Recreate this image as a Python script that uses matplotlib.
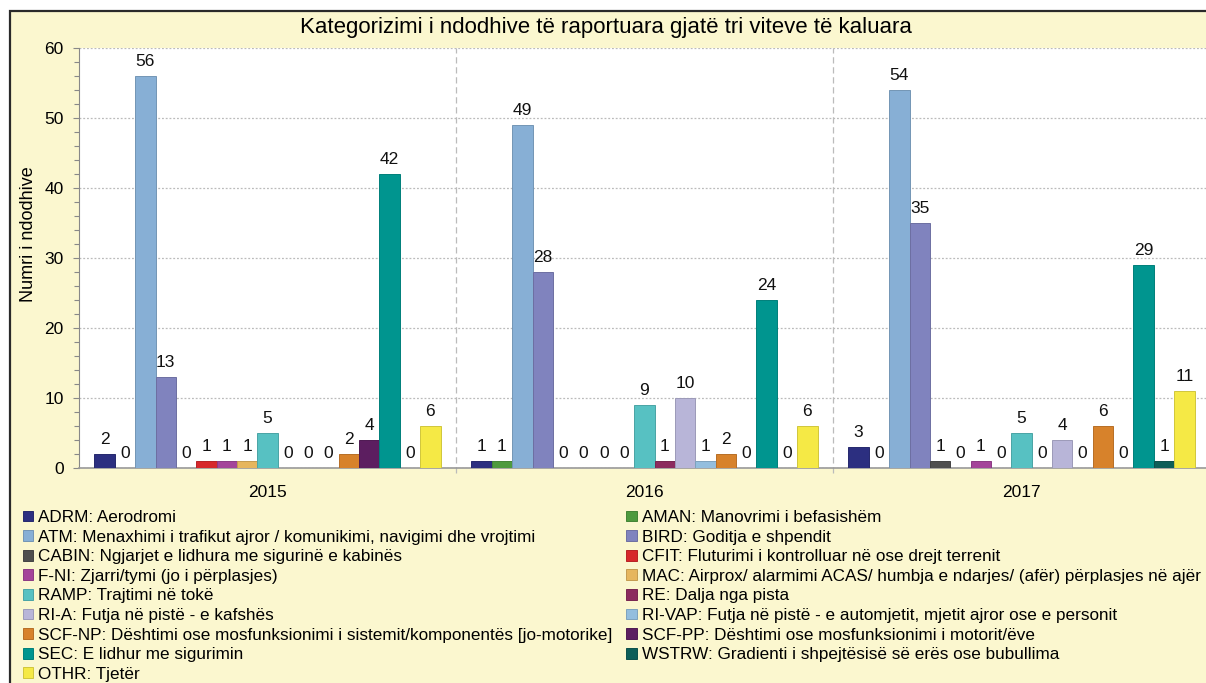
import matplotlib
matplotlib.use("Agg")
import matplotlib.pyplot as plt
from matplotlib.patches import Rectangle
from matplotlib.ticker import MultipleLocator
import numpy as np

plt.rcParams['font.family'] = ['Liberation Sans', 'DejaVu Sans']

years = ["2015", "2016", "2017"]
codes = ["ADRM", "AMAN", "ATM", "BIRD", "CABIN", "CFIT", "F-NI", "MAC", "RAMP",
         "RE", "RI-A", "RI-VAP", "SCF-NP", "SCF-PP", "SEC", "WSTRW", "OTHR"]
legend_labels = [
    "ADRM: Aerodromi",
    "AMAN: Manovrimi i befasishëm",
    "ATM: Menaxhimi i trafikut ajror / komunikimi, navigimi dhe vrojtimi",
    "BIRD: Goditja e shpendit",
    "CABIN: Ngjarjet e lidhura me sigurinë e kabinës",
    "CFIT: Fluturimi i kontrolluar në ose drejt terrenit",
    "F-NI: Zjarri/tymi (jo i përplasjes)",
    "MAC: Airprox/ alarmimi ACAS/ humbja e ndarjes/ (afër) përplasjes në ajër",
    "RAMP: Trajtimi në tokë",
    "RE: Dalja nga pista",
    "RI-A: Futja në pistë - e kafshës",
    "RI-VAP: Futja në pistë - e automjetit, mjetit ajror ose e personit",
    "SCF-NP: Dështimi ose mosfunksionimi i sistemit/komponentës [jo-motorike]",
    "SCF-PP: Dështimi ose mosfunksionimi i motorit/ëve",
    "SEC: E lidhur me sigurimin",
    "WSTRW: Gradienti i shpejtësisë së erës ose bubullima",
    "OTHR: Tjetër",
]
values_2015 = [2, 0, 56, 13, 0, 1, 1, 1, 5, 0, 0, 0, 2, 4, 42, 0, 6]
values_2016 = [1, 1, 49, 28, 0, 0, 0, 0, 9, 1, 10, 1, 2, 0, 24, 0, 6]
values_2017 = [3, 0, 54, 35, 1, 0, 1, 0, 5, 0, 4, 0, 6, 0, 29, 1, 11]

colors = ["#2C2F80", "#4E9A3E", "#87AFD5", "#8083BE", "#4F4F4F", "#D7282B",
          "#A4449A", "#E6B65E", "#57C1C2", "#8C2B5E", "#B8B5D8", "#93BEDE",
          "#D7822B", "#5C1E60", "#00958F", "#0D5E58", "#F5E945"]

title = "Kategorizimi i ndodhive të raportuara gjatë tri viteve të kaluara"
ylabel = "Numri i ndodhive"

data = np.array([values_2015, values_2016, values_2017])  # years x categories

W, H = 1206, 683
fig = plt.figure(figsize=(W / 100, H / 100), dpi=100)
fig.patch.set_facecolor("white")

# outer yellow frame
frame = Rectangle((10 / W, -0.02), 1.05, 1 - 11 / H + 0.02,
                  transform=fig.transFigure, facecolor="#FBF7CF",
                  edgecolor="#2a2a2a", linewidth=1.6, zorder=-5)
fig.patches.append(frame)

ax = fig.add_axes([79 / W, 1 - 468 / H, 1131 / W, (468 - 48) / H])
ax.set_zorder(2)
ax.set_facecolor("white")

n = len(codes)
bw = 0.054
x = np.arange(len(years))
handles = []
for j in range(n):
    pos = x + (j - (n - 1) / 2) * bw
    c = colors[j]
    dark = tuple(np.clip(np.array(matplotlib.colors.to_rgb(c)) * 0.85, 0, 1))
    bars = ax.bar(pos, data[:, j], width=bw, color=c, edgecolor=dark,
                  linewidth=0.7, zorder=3, label=legend_labels[j])
    ax.bar_label(bars, labels=[str(v) for v in data[:, j]], padding=5,
                 fontsize=12.5, color="#111111", zorder=4)
    handles.append(bars)

ax.set_xlim(-0.5, 2.5)
ax.set_ylim(0, 60)
ax.yaxis.set_major_locator(MultipleLocator(10))
ax.yaxis.set_minor_locator(MultipleLocator(2))
ax.set_xticks(x)
ax.set_xticklabels(years, fontsize=12.5)
ax.tick_params(axis="x", length=0, pad=12)
ax.tick_params(axis="y", which="major", length=4, width=0.8, color="#888888",
               labelsize=12.5, pad=7)
ax.tick_params(axis="y", which="minor", length=3.5, width=0.8, color="#888888")

ax.grid(axis="y", which="major", linestyle=(0, (1.5, 1.5)), color="#BBBBBB",
        linewidth=0.9, zorder=1)
for sep in [0.5, 1.5]:
    ax.axvline(sep, color="#BBBBBB", linestyle=(0, (5, 3)), linewidth=0.9,
               zorder=1, ymin=-0.012, clip_on=False)

for s in ["top", "right"]:
    ax.spines[s].set_visible(False)
ax.spines["left"].set_color("#888888")
ax.spines["bottom"].set_color("#999999")
ax.spines["bottom"].set_linewidth(1.2)

ax.set_ylabel(ylabel, fontsize=13, labelpad=6)
ax.yaxis.set_label_coords(-0.037, (468 - 234) / 420)

fig.text(606 / W, 1 - 28 / H, title, ha="center", va="center", fontsize=16)

order = list(range(0, n, 2)) + list(range(1, n, 2))
leg = fig.legend([handles[i] for i in order], [legend_labels[i] for i in order],
                 ncol=2, loc="upper left", bbox_to_anchor=(23 / W, 1 - 510 / H),
                 frameon=False, fontsize=12.3, handlelength=0.6, handleheight=0.6,
                 handletextpad=0.3, labelspacing=0.27, columnspacing=0.8,
                 borderpad=0, borderaxespad=0)

fig.savefig("out.png", dpi=100, facecolor=fig.get_facecolor())
